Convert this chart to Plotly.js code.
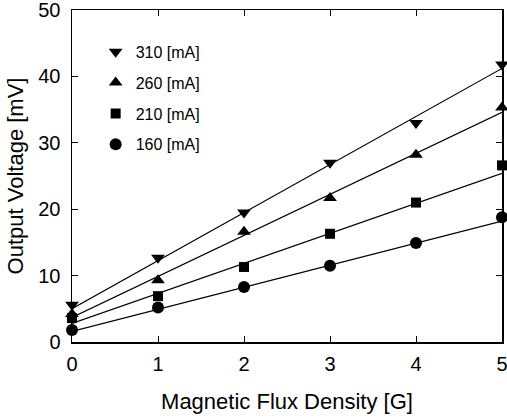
<!DOCTYPE html>
<html>
<head>
<meta charset="utf-8">
<script src="https://cdn.plot.ly/plotly-3.0.1.min.js"></script>
<style>html,body{margin:0;padding:0;background:#fff;}#chart{width:507px;height:418px;}</style>
</head>
<body>
<div id="chart"></div>
<script>
// Magnetic flux density [G]
const fluxDensity = [0, 1, 2, 3, 4, 5];
// Measured output voltage [mV] per drive current
const series310 = [5.6, 12.7, 19.5, 27.0, 33.0, 41.8];
const series260 = [4.2, 9.3, 16.6, 21.7, 28.2, 35.3];
const series210 = [3.6, 6.9, 11.3, 16.3, 21.0, 26.6];
const series160 = [1.8, 5.2, 8.3, 11.5, 14.9, 18.8];
// Fitted straight lines, value at the ends of the range
const fitX = [0, 5];
const fit310 = [5.0, 41.2];
const fit260 = [3.7, 34.6];
const fit210 = [2.8, 25.4];
const fit160 = [1.6, 18.2];
const seriesNames = ['310 [mA]', '260 [mA]', '210 [mA]', '160 [mA]'];
const seriesSymbols = ['triangle-down', 'triangle-up', 'square', 'circle'];
const xTicks = [0, 1, 2, 3, 4, 5];
const yTicks = [0, 10, 20, 30, 40, 50];

const pts = [series310, series260, series210, series160];
const fits = [fit310, fit260, fit210, fit160];

const traces = [];
fits.forEach((f) => {
  traces.push({x: fitX, y: f, mode: 'lines', line: {color: '#000', width: 1.2},
    showlegend: false, hoverinfo: 'skip'});
});
pts.forEach((p, i) => {
  traces.push({x: fluxDensity, y: p, mode: 'markers', name: seriesNames[i],
    legendgroup: 'g' + i,
    marker: {symbol: seriesSymbols[i], color: '#000', size: seriesSymbols[i] === 'square' ? 10 : 12}, cliponaxis: false});
});

const font = 'Liberation Sans, Arial, sans-serif';
const layout = {
  width: 507, height: 418,
  margin: {l: 72, r: 5, t: 10, b: 76},
  paper_bgcolor: '#fff', plot_bgcolor: '#fff',
  font: {family: font, color: '#000'},
  showlegend: true,
  legend: {x: 0.055, y: 0.925, xanchor: 'left', yanchor: 'top', bgcolor: 'rgba(0,0,0,0)',
    font: {size: 16, family: font}, traceorder: 'grouped', tracegroupgap: 7},
  xaxis: {range: [0, 5], tickvals: xTicks, showgrid: false, zeroline: false,
    showline: true, linecolor: '#000', linewidth: 1.5, mirror: 'ticks', ticks: 'inside',
    ticklen: 6, tickcolor: '#000', tickfont: {size: 20, family: font}, ticklabelstandoff: 3,
    ticklabeloverflow: 'allow', automargin: false,
    title: {text: 'Magnetic Flux Density [G]', font: {size: 22, family: font}, standoff: 20}},
  yaxis: {range: [0, 50], tickvals: yTicks, showgrid: false, zeroline: false,
    showline: true, linecolor: '#000', linewidth: 1.5, mirror: 'ticks', ticks: 'inside',
    ticklen: 6, tickcolor: '#000', tickfont: {size: 20, family: font}, ticklabelstandoff: 6,
    ticklabeloverflow: 'allow', automargin: false,
    title: {text: 'Output Voltage [mV]', font: {size: 22, family: font}, standoff: 8}}
};
Plotly.newPlot('chart', traces, layout, {staticPlot: true});
</script>
</body>
</html>
